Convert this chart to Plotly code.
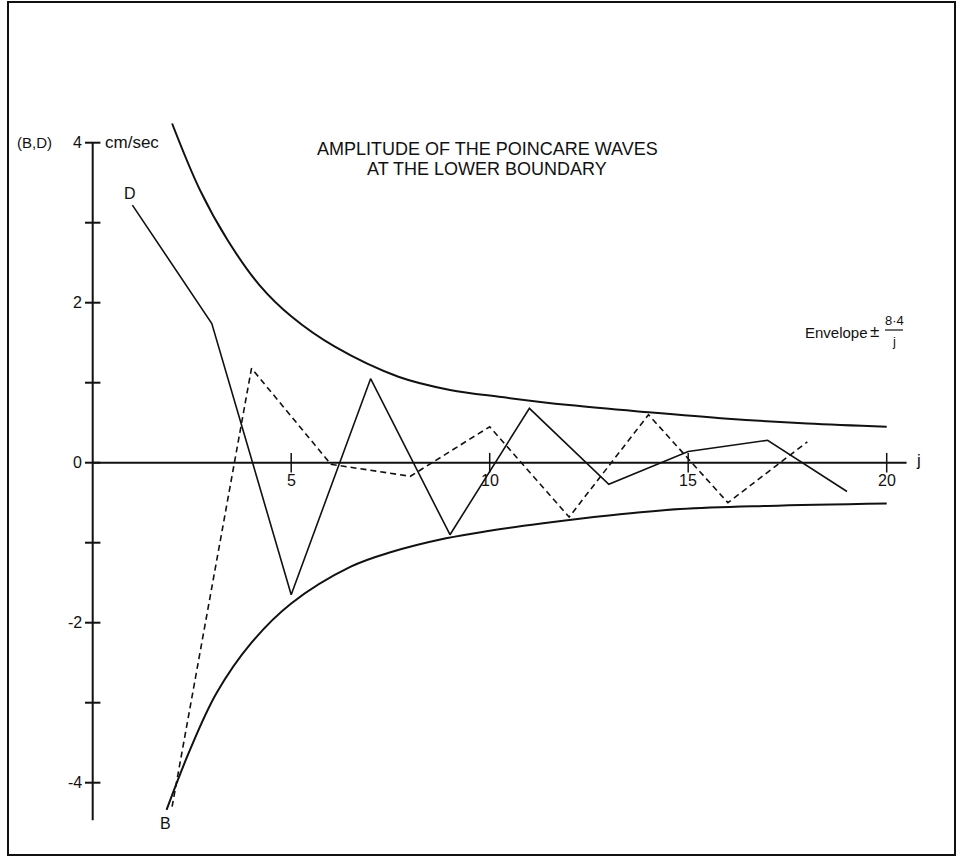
import plotly.graph_objects as go

# ---- data ----
d_j = [1, 3, 5, 7, 9, 11, 13, 15, 17, 19]
d_vals = [3.22, 1.74, -1.65, 1.05, -0.90, 0.68, -0.27, 0.14, 0.28, -0.36]

b_j = [2, 4, 6, 8, 10, 12, 14, 16, 18]
b_vals = [-4.30, 1.18, -0.02, -0.17, 0.45, -0.68, 0.60, -0.50, 0.26]

env_up_j = [2.0, 2.7, 3.4, 4.2, 5.0, 6.1, 7.7, 9.0, 10.3, 12.0, 14.0, 16.0, 18.0, 20.0]
env_up_vals = [4.24, 3.41, 2.78, 2.22, 1.83, 1.45, 1.075, 0.91, 0.82, 0.72, 0.63, 0.55, 0.49, 0.45]

env_lo_j = [1.86, 2.45, 3.12, 4.0, 5.0, 6.5, 7.5, 8.9, 10.0, 11.3, 13.0, 14.8, 17.0, 20.0]
env_lo_vals = [-4.34, -3.59, -2.88, -2.25, -1.76, -1.30, -1.12, -0.945, -0.85, -0.76, -0.66, -0.58, -0.54, -0.51]

y_ticks = [-4, -3, -2, -1, 0, 1, 2, 3, 4]
y_tick_labels = {4: "4", 2: "2", 0: "0", -2: "-2", -4: "-4"}
x_ticks = [5, 10, 15, 20]
x_tick_labels = ["5", "10", "15", "20"]

W, H = 960, 857
X0PX, XSC = 92.7, 39.7     # pixel of j=0, px per unit
Y0PX, YSC = 462.7, 80.0    # pixel of value 0, px per unit
xr = [-X0PX / XSC, (W - X0PX) / XSC]
yr = [(Y0PX - H) / YSC, Y0PX / YSC]

FONT = "Liberation Sans, Arial, sans-serif"
BLACK = "#111111"

fig = go.Figure()

# envelopes
fig.add_trace(go.Scatter(x=env_up_j, y=env_up_vals, mode="lines",
                         line=dict(color=BLACK, width=2, shape="spline", smoothing=1.0), hoverinfo="skip"))
fig.add_trace(go.Scatter(x=env_lo_j, y=env_lo_vals, mode="lines",
                         line=dict(color=BLACK, width=2, shape="spline", smoothing=1.0), hoverinfo="skip"))
# D solid, B dashed
fig.add_trace(go.Scatter(x=d_j, y=d_vals, mode="lines",
                         line=dict(color=BLACK, width=1.6), hoverinfo="skip"))
fig.add_trace(go.Scatter(x=b_j, y=b_vals, mode="lines",
                         line=dict(color=BLACK, width=1.6, dash="6px,4px"), hoverinfo="skip"))

# axis lines
fig.add_shape(type="line", x0=0, x1=0, y0=-4.47, y1=4, line=dict(color=BLACK, width=2))
fig.add_shape(type="line", x0=0, x1=20.5, y0=0, y1=0, line=dict(color=BLACK, width=2))

# tick marks
fig.add_trace(go.Scatter(x=[0] * len(y_ticks), y=y_ticks, mode="markers",
                         marker=dict(symbol="line-ew-open", size=11, color=BLACK,
                                     line=dict(color=BLACK, width=2)),
                         hoverinfo="skip"))
fig.add_trace(go.Scatter(x=x_ticks, y=[0] * len(x_ticks), mode="markers",
                         marker=dict(symbol="line-ns-open", size=14, color=BLACK,
                                     line=dict(color=BLACK, width=1.5)),
                         hoverinfo="skip"))

ann = []
for v, t in y_tick_labels.items():
    ann.append(dict(x=0, y=v, xref="x", yref="y", text=t, showarrow=False,
                    xanchor="right", yanchor="middle", xshift=-9,
                    font=dict(family=FONT, size=16, color=BLACK)))
for v, t in zip(x_ticks, x_tick_labels):
    ann.append(dict(x=v, y=0, xref="x", yref="y", text=t, showarrow=False,
                    xanchor="center", yanchor="top", yshift=-7,
                    font=dict(family=FONT, size=16, color=BLACK)))


def px(xp, yp):
    return xp / W, 1 - yp / H


def text(xp, yp, t, size=15, family=FONT, xa="center"):
    x, y = px(xp, yp)
    ann.append(dict(x=x, y=y, xref="paper", yref="paper", text=t, showarrow=False,
                    xanchor=xa, yanchor="middle", font=dict(family=family, size=size, color=BLACK)))


text(918, 460, "j", 17)
text(15, 142, "(B,D)", 15, xa="left")
text(103, 142, "cm/sec", 17, xa="left")
text(130, 193, "D", 16)
text(165, 823, "B", 16)
text(487, 149, "AMPLITUDE OF THE POINCARE WAVES", 18)
text(487, 169, "AT THE LOWER BOUNDARY", 18)
text(803, 332, "Envelope", 15, xa="left")
text(874, 331, "±", 17)
text(894, 321, "8·4", 13)
text(894, 341, "j", 13)

fig.add_shape(type="line", xref="paper", yref="paper",
              x0=885 / W, x1=903 / W, y0=1 - 330 / H, y1=1 - 330 / H,
              line=dict(color=BLACK, width=1.2))
# page frame
fig.add_shape(type="rect", xref="paper", yref="paper",
              x0=8 / W, x1=955 / W, y0=1 - 855 / H, y1=1 - 2 / H,
              line=dict(color=BLACK, width=2))

fig.update_layout(
    width=W, height=H, margin=dict(l=0, r=0, t=0, b=0),
    paper_bgcolor="white", plot_bgcolor="white", showlegend=False,
    xaxis=dict(range=xr, visible=False, fixedrange=True),
    yaxis=dict(range=yr, visible=False, fixedrange=True),
    annotations=ann,
)

fig.write_html("out.html", config={"displayModeBar": False},
               post_script="document.body.style.margin='0';document.body.style.overflow='hidden';")
